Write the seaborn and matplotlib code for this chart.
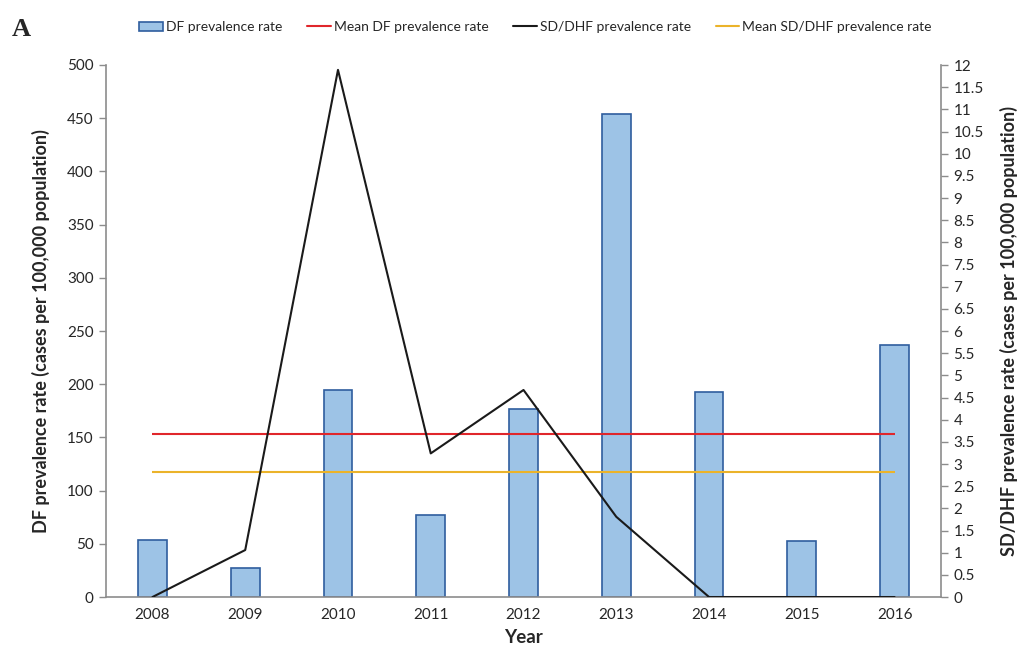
import matplotlib
matplotlib.use("Agg")
import matplotlib.pyplot as plt
import seaborn as sns
import numpy as np
import pandas as pd
from matplotlib.patches import Patch
from matplotlib.lines import Line2D

# Dengue prevalence per 100,000 population
years = ["2008", "2009", "2010", "2011", "2012", "2013", "2014", "2015", "2016"]
df_rate = [54, 27, 195, 77, 177, 454, 193, 53, 237]
sd_dhf_rate = [0.0, 1.06, 11.89, 3.24, 4.67, 1.81, 0.0, 0.0, 0.0]
mean_df_rate = 153.5
mean_sd_dhf_rate = 2.83

left_ticks = list(range(0, 501, 50))
right_ticks = [i * 0.5 for i in range(25)]

sns.set_theme(style="white")
plt.rcParams["font.family"] = ["Lato", "DejaVu Sans"]

bar_fill = "#9DC3E6"
bar_edge = "#2F5E9E"
red = "#E0262B"
gold = "#EBB32A"
spine_c = "#8C8C8C"
text_c = "#262626"

fig = plt.figure(figsize=(10.2, 6.5), dpi=100)
ax = fig.add_axes([0.104, 0.0815, 0.8185, 0.8185])

data = pd.DataFrame({"Year": years, "DF": df_rate, "SD": sd_dhf_rate})

sns.barplot(data=data, x="Year", y="DF", ax=ax, color=bar_fill, width=0.31,
            edgecolor=bar_edge, linewidth=1.2, saturation=1)
ax.hlines(mean_df_rate, 0, len(years) - 1, color=red, linewidth=1.5, zorder=4)
ax.set_xlim(-0.5, len(years) - 0.5)
ax.set_ylim(0, 500)
ax.set_yticks(left_ticks)

ax2 = ax.twinx()
ax2.plot(np.arange(len(years)), data["SD"], color="#1a1a1a", linewidth=1.5, zorder=5)
ax2.hlines(mean_sd_dhf_rate, 0, len(years) - 1, color=gold, linewidth=1.5, zorder=4)
ax2.set_ylim(0, 12)
ax2.set_yticks(right_ticks)
ax2.set_yticklabels([f"{t:g}" for t in right_ticks])
ax2.set_xlim(-0.5, len(years) - 0.5)

# minor ticks between categories on the x axis
ax.set_xticks(np.arange(-0.5, len(years) + 0.5, 1), minor=True)
ax.tick_params(axis="x", which="major", length=0, pad=8, labelsize=11, colors=text_c)
ax.tick_params(axis="x", which="minor", length=5, width=1, color=spine_c, direction="out")
ax.tick_params(axis="y", length=5, width=1, color=spine_c, direction="out",
               labelsize=11, labelcolor=text_c, pad=4)
ax2.tick_params(axis="y", length=5, width=1, color=spine_c, direction="out",
                labelsize=11, labelcolor=text_c, pad=4)

for a in (ax, ax2):
    a.spines["top"].set_visible(False)
    for s in ("left", "right", "bottom"):
        a.spines[s].set_color(spine_c)
        a.spines[s].set_linewidth(1.2)
ax.spines["right"].set_visible(False)
ax2.spines["left"].set_visible(False)
ax2.spines["bottom"].set_visible(False)

ax.set_xlabel("Year", fontsize=13.5, fontweight="bold", color=text_c, labelpad=5)
ax.set_ylabel("DF prevalence rate (cases per 100,000 population)", fontsize=13,
              fontweight="bold", color=text_c, labelpad=12)
ax2.set_ylabel("SD/DHF prevalence rate (cases per 100,000 population)", fontsize=13,
               fontweight="bold", color=text_c, rotation=90, labelpad=12)
ax2.yaxis.set_label_position("right")

handles = [
    Patch(facecolor=bar_fill, edgecolor=bar_edge, linewidth=1.2, label="DF prevalence rate"),
    Line2D([], [], color=red, linewidth=1.5, label="Mean DF prevalence rate"),
    Line2D([], [], color="#1a1a1a", linewidth=1.5, label="SD/DHF prevalence rate"),
    Line2D([], [], color=gold, linewidth=1.5, label="Mean SD/DHF prevalence rate"),
]
fig.legend(handles=handles, loc="center", bbox_to_anchor=(0.525, 0.958), ncol=4,
           frameon=False, fontsize=10, handlelength=1.7, handletextpad=0.2,
           columnspacing=1.8, labelcolor=text_c)

fig.text(0.012, 0.955, "A", fontsize=19, fontweight="bold",
         family=["Liberation Serif", "DejaVu Serif"], va="center", ha="left")

fig.savefig("out.png", dpi=100)
